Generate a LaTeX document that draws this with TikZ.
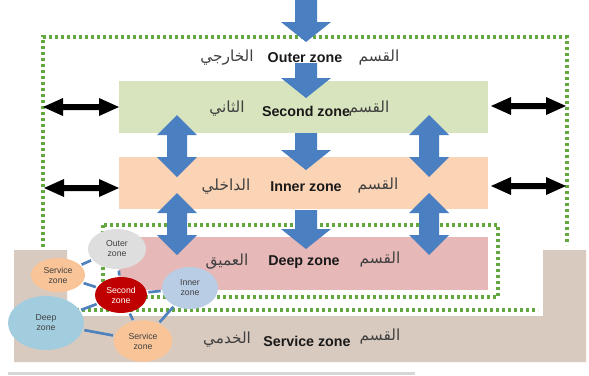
\documentclass[tikz,border=0pt]{standalone}
\usepackage{fontspec}
\setmainfont{Liberation Sans}
\newfontfamily\arabicfont[Script=Arabic]{DejaVu Sans}
\TeXXeTstate=1
\usetikzlibrary{shapes.geometric}
\definecolor{tanbg}{HTML}{D9CABF}
\definecolor{greenbox}{HTML}{D7E4BD}
\definecolor{orangebox}{HTML}{FBD3B5}
\definecolor{pinkbox}{HTML}{E6B9B8}
\definecolor{dotgreen}{HTML}{62A83E}
\definecolor{arrowblue}{HTML}{4A7FC1}
\definecolor{linkblue}{HTML}{4F81BD}
\definecolor{grayc}{HTML}{DEDEDE}
\definecolor{orangec}{HTML}{F9C497}
\definecolor{redc}{HTML}{C00000}
\definecolor{innerc}{HTML}{B9CDE5}
\definecolor{deepc}{HTML}{A2CDDF}
\definecolor{barg}{HTML}{D6D6D6}
\newcommand{\dnarrow}[3]{\fill[arrowblue] (#1-11,#2) -- (#1+11,#2) -- (#1+11,#3-20) -- (#1+25,#3-20) -- (#1,#3) -- (#1-25,#3-20) -- (#1-11,#3-20) -- cycle;}
\newcommand{\udarrow}[3]{\fill[arrowblue] (#1,#2) -- (#1+20,#2+20) -- (#1+10,#2+20) -- (#1+10,#3-20) -- (#1+20,#3-20) -- (#1,#3) -- (#1-20,#3-20) -- (#1-10,#3-20) -- (#1-10,#2+20) -- (#1-20,#2+20) -- cycle;}
\newcommand{\lrarrow}[3]{\fill[black] (#1,#3) -- (#1+20,#3-9) -- (#1+20,#3-3) -- (#2-20,#3-3) -- (#2-20,#3-9) -- (#2,#3) -- (#2-20,#3+9) -- (#2-20,#3+3) -- (#1+20,#3+3) -- (#1+20,#3+9) -- cycle;}
\tikzset{
  dotline/.style={draw=dotgreen, line width=2.7pt, dash pattern=on 2.5pt off 2pt},
  entext/.style={font=\fontsize{10.7}{12}\selectfont\bfseries, text=black!90, inner sep=0pt},
  artext/.style={font=\fontsize{11.5}{13}\arabicfont, text=black!75, inner sep=0pt},
  zone/.style={ellipse, inner sep=0pt, align=center, font=\fontsize{6.5}{7.5}\selectfont, text=black!75},
  link/.style={draw=linkblue, line width=2pt, shorten >=1pt, shorten <=1pt}
}
\begin{document}
\begin{tikzpicture}[x=0.75pt,y=-0.75pt]
\useasboundingbox (0,0) rectangle (589,375);
\fill[white] (0,0) rectangle (589,375);
% service zone background
\fill[tanbg] (14,250) -- (67,250) -- (67,316) -- (543,316) -- (543,250) -- (586,250) -- (586,362) -- (14,362) -- cycle;
\fill[barg] (8,372) rectangle (415,375);
% outer dotted boundary
\draw[dotline] (43,247) -- (43,37) -- (567,37) -- (567,245);
\draw[dotline] (70,310) -- (538,310);
% zone boxes
\fill[greenbox] (119,81) rectangle (488,133);
\fill[orangebox] (119,157) rectangle (488,209);
\fill[pinkbox] (119,237) rectangle (488,290);
% inner dotted boundary
\draw[dotline] (103,225) rectangle (498,297);
% blue block arrows
\dnarrow{306}{0}{42}
\dnarrow{306}{63}{98}
\dnarrow{306}{133}{170}
\dnarrow{306}{210}{249}
\udarrow{177}{115}{177}
\udarrow{429}{115}{177}
\udarrow{177}{193}{255}
\udarrow{429}{193}{255}
% black double arrows
\lrarrow{43}{119}{107}
\lrarrow{491}{566}{106}
\lrarrow{44}{119}{188}
\lrarrow{491}{566}{186}
% labels
\node[artext] (a1) at (227,58) {\beginR الخارجي\endR};
\node[entext] (e1) at (305,58) {Outer zone};
\node[artext] (q1) at (379,58) {\beginR القسم\endR};
\node[artext] (a2) at (227,109) {\beginR الثاني\endR};
\node[entext] (e2) at (306,111) {Second zone};
\node[artext] (q2) at (369,109) {\beginR القسم\endR};
\node[artext] (a3) at (226,187) {\beginR الداخلي\endR};
\node[entext] (e3) at (306,187) {Inner zone};
\node[artext] (q3) at (378,186) {\beginR القسم\endR};
\node[artext] (a4) at (227,262) {\beginR العميق\endR};
\node[entext] (e4) at (304,262) {Deep zone};
\node[artext] (q4) at (380,260) {\beginR القسم\endR};
\node[artext] (a5) at (227,340) {\beginR الخدمي\endR};
\node[entext] (e5) at (307,341) {Service zone};
\node[artext] (q5) at (380,337) {\beginR القسم\endR};
% small zone cluster
\node[zone, fill=grayc, minimum width=43.5pt, minimum height=30pt] (cout) at (117,249) {Outer\\zone};
\node[zone, fill=orangec, minimum width=40.5pt, minimum height=25.5pt] (csv1) at (58,275) {Service\\zone};
\node[zone, fill=innerc, minimum width=42pt, minimum height=31.5pt] (cin) at (190,288) {Inner\\zone};
\node[zone, fill=deepc, minimum width=57pt, minimum height=40.5pt] (cdeep) at (46,323) {Deep\\zone};
\node[zone, fill=orangec, minimum width=44pt, minimum height=31pt] (csv2) at (143,341) {Service\\zone};
\node[zone, fill=redc, text=white, minimum width=39pt, minimum height=27pt] (csec) at (121,295) {Second\\zone};
\draw[link] (cout) -- (csv1);
\draw[link] (cout) -- (csec);
\draw[link] (csv1) -- (csec);
\draw[link] (csec) -- (cin);
\draw[link] (csec) -- (cdeep);
\draw[link] (csec) -- (csv2);
\draw[link] (cdeep) -- (csv2);
\draw[link] (csv2) -- (cin);
\end{tikzpicture}
\end{document}
